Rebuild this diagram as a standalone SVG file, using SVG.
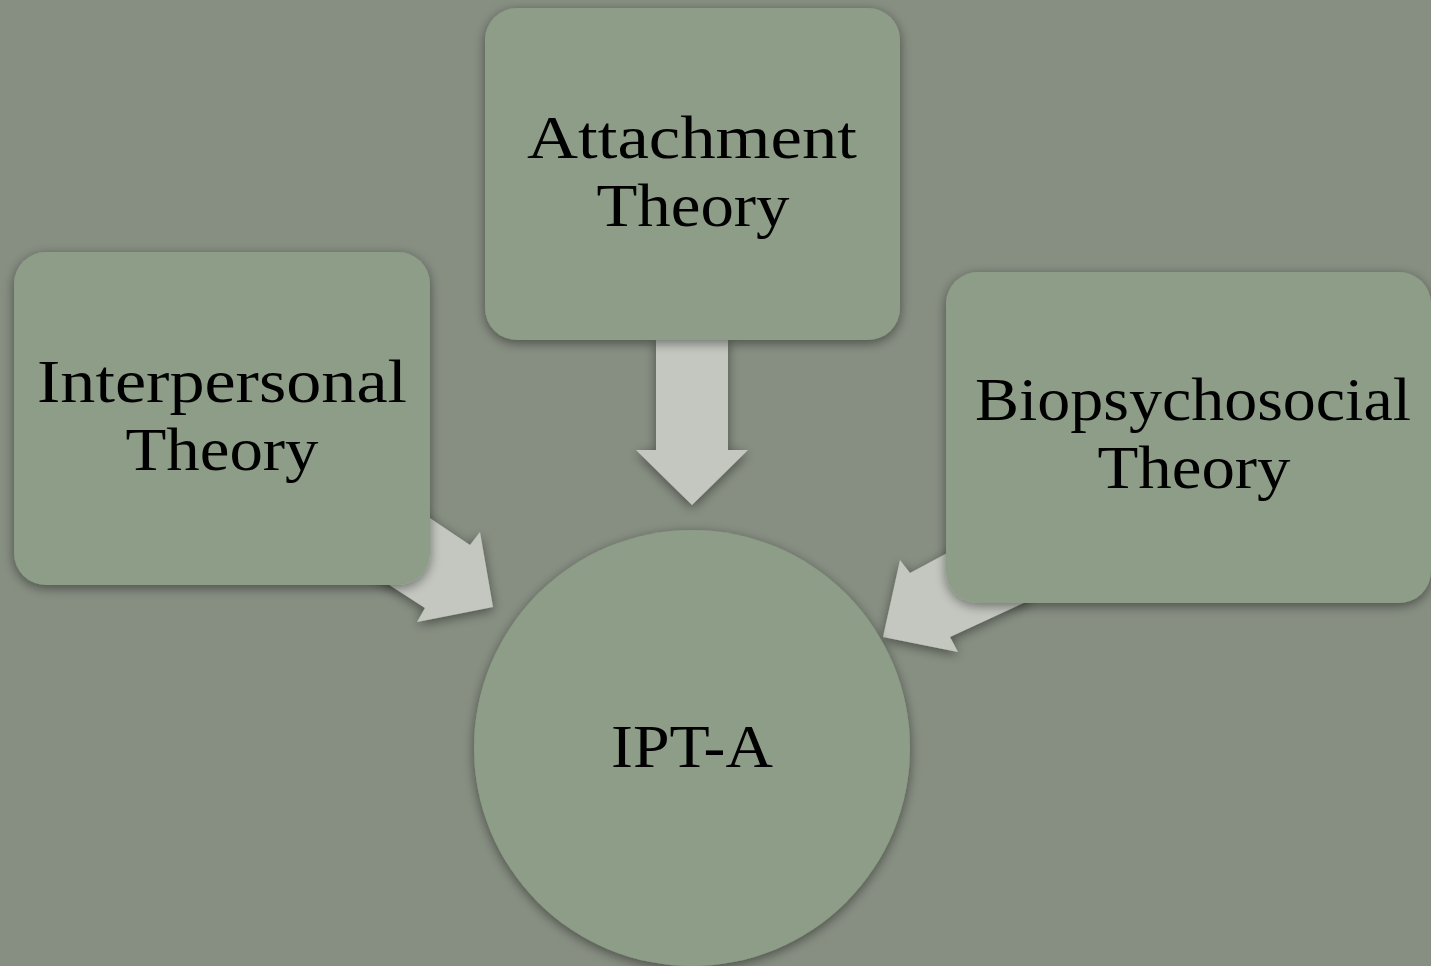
<svg xmlns="http://www.w3.org/2000/svg" width="1431" height="966" viewBox="0 0 1431 966">
<defs>
<filter id="shadow" x="-20%" y="-20%" width="140%" height="140%">
<feGaussianBlur in="SourceAlpha" stdDeviation="6"/>
<feOffset dx="0" dy="3" result="b"/>
<feComponentTransfer><feFuncA type="linear" slope="0.45"/></feComponentTransfer>
<feMerge><feMergeNode/><feMergeNode in="SourceGraphic"/></feMerge>
</filter>
<style>
.box{fill:#8d9d87;}
.arrow{fill:#c3c7bf;}
.lbl{font-family:"Liberation Serif","Times New Roman",serif;font-size:62px;fill:#000;text-anchor:middle;}
</style>
</defs>
<rect x="0" y="0" width="1431" height="966" fill="#878e82"/>
<g id="connectors" filter="url(#shadow)">
<polygon class="arrow" points="656,338 728,338 728,450 748,450 692,505 636,450 656,450"/>
<polygon class="arrow" points="400,498 470,545 480,532 493,607 417,622 425,608 360,566"/>
<polygon class="arrow" points="1010,520 1030,600 950,637 958,652 883,637 900,560 910,573 990,530"/>
</g>
<g id="node-attachment" filter="url(#shadow)">
<rect class="box" x="485" y="8" width="415" height="332" rx="32"/>
<text class="lbl" x="692" y="158" textLength="330" lengthAdjust="spacingAndGlyphs">Attachment</text>
<text class="lbl" x="693" y="226" textLength="193" lengthAdjust="spacingAndGlyphs">Theory</text>
</g>
<g id="node-interpersonal" filter="url(#shadow)">
<rect class="box" x="14" y="252" width="416" height="333" rx="32"/>
<text class="lbl" x="222" y="402" textLength="370" lengthAdjust="spacingAndGlyphs">Interpersonal</text>
<text class="lbl" x="222" y="470" textLength="193" lengthAdjust="spacingAndGlyphs">Theory</text>
</g>
<g id="node-biopsychosocial" filter="url(#shadow)">
<rect class="box" x="946" y="272" width="485" height="331" rx="32"/>
<text class="lbl" x="1193" y="420" textLength="436" lengthAdjust="spacingAndGlyphs">Biopsychosocial</text>
<text class="lbl" x="1194" y="488" textLength="193" lengthAdjust="spacingAndGlyphs">Theory</text>
</g>
<g id="node-ipta" filter="url(#shadow)">
<circle class="box" cx="692" cy="748" r="218"/>
<text class="lbl" x="692" y="767" textLength="162" lengthAdjust="spacingAndGlyphs">IPT-A</text>
</g>
</svg>
